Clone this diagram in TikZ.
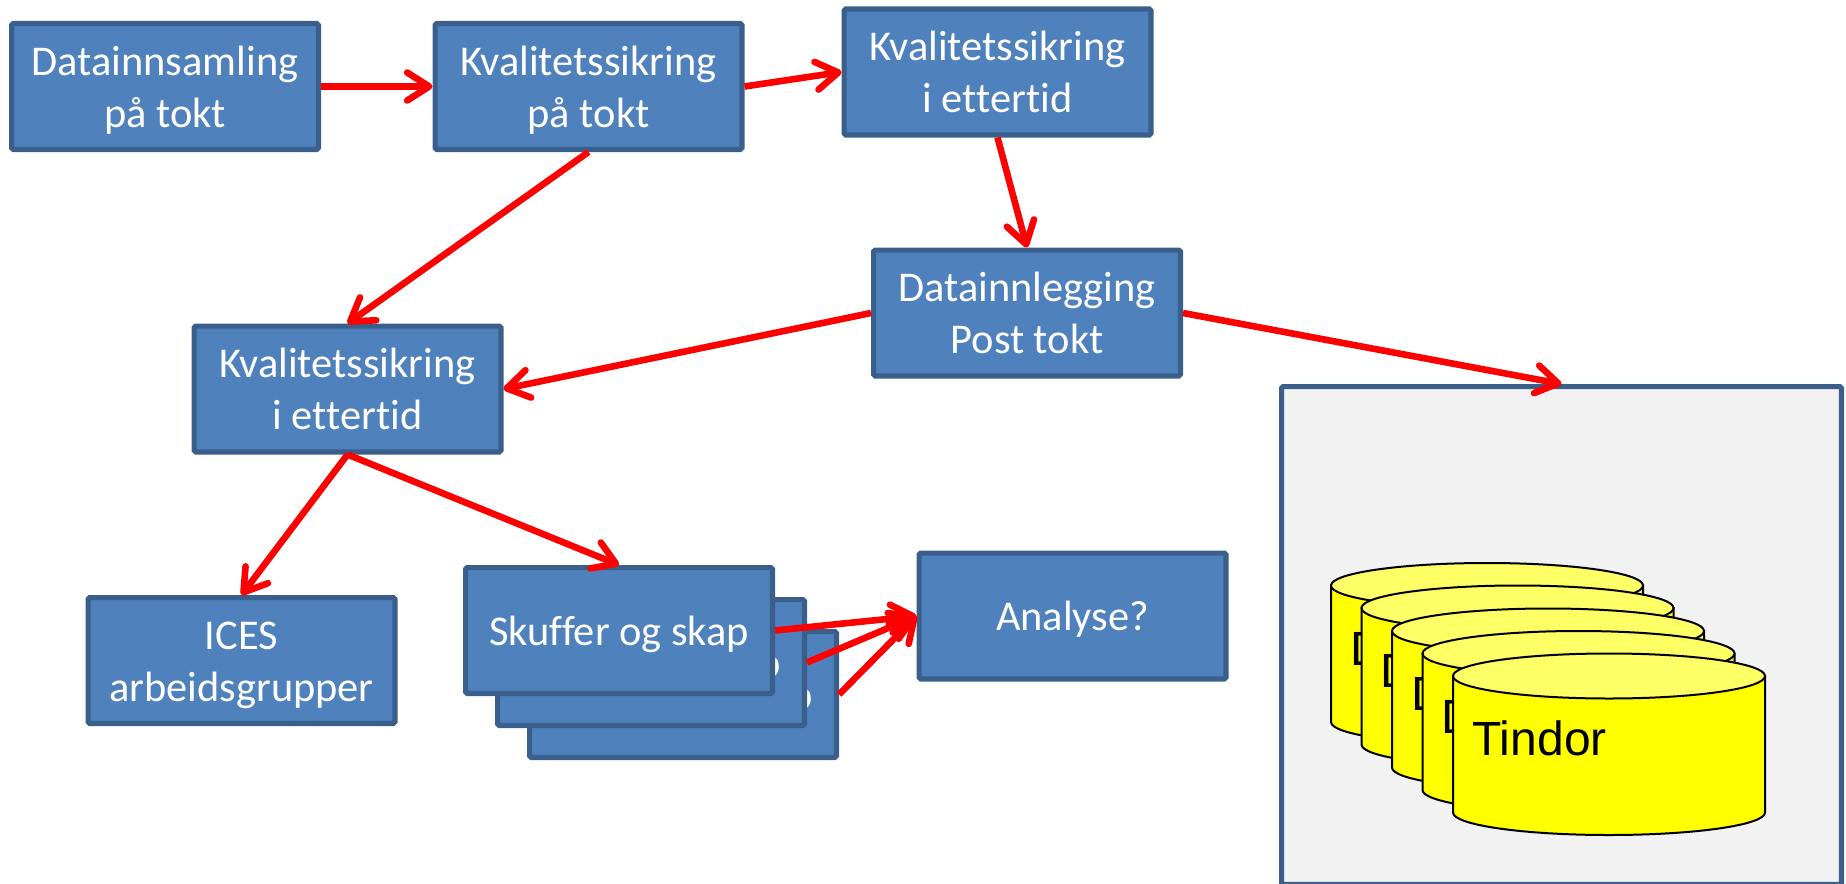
\documentclass[tikz,border=0pt]{standalone}
\usepackage{fontspec}
\setmainfont{Carlito}[Ligatures=NoCommon]
\newfontfamily\tankfont{Liberation Sans}
\usetikzlibrary{arrows.meta}

\definecolor{boxblue}{HTML}{4F81BD}
\definecolor{boxedge}{HTML}{3A5F8B}
\definecolor{panelgray}{HTML}{F2F2F2}
\definecolor{tankbody}{HTML}{FFFF00}
\definecolor{tanktop}{HTML}{FFFF66}
\definecolor{flowred}{HTML}{FF0000}

\lineskiplimit=-50pt
\newcommand{\boxstrut}{\rule[-4.1pt]{0pt}{23pt}}

\tikzset{
  stepbox/.style={draw=boxedge, fill=boxblue, line width=2.6pt, rounded corners=0.8pt,
    minimum width=153.4pt, minimum height=62.9pt, inner sep=0pt, align=center,
    text=white, font=\fontsize{21.2}{26}\selectfont},
  flow/.style={draw=flowred, line width=3.3pt, -{Straight Barb[length=11pt,width=14pt,round]}},
}

\begin{document}
\begin{tikzpicture}[x=0.5pt, y=-0.5pt]
    \useasboundingbox (0,0) rectangle (1846,883);

    \node[stepbox, fill=panelgray, minimum width=279.9pt, minimum height=248.9pt] (panel) at (1561.5,635.5) {};

    % tanks, back to front
    \foreach \x/\y/\lbl [count=\n] in {1487/585.5/D, 1517.5/608/D, 1548/631/D, 1578.5/653.5/D, 1609/676/Tindor} {
      \draw[line width=1pt, fill=tankbody] (\x-156,\y) -- (\x-156,\y+136.5) arc[start angle=180, end angle=0, x radius=156, y radius=22.5] -- (\x+156,\y) -- cycle;
      \draw[line width=1pt, fill=tanktop] (\x,\y) ellipse[x radius=156, y radius=22.5];
      \node[anchor=base west, inner sep=0pt, font=\tankfont\fontsize{24}{28}\selectfont] (tank\n) at (\x-137,\y+79.5) {\lbl};
    }

    \node[stepbox] (collect) at (165,86.5) {\boxstrut Datainnsamling\\på tokt\boxstrut};
    \node[stepbox] (check) at (588.5,86.5) {\boxstrut Kvalitetssikring\\på tokt\boxstrut};
    \node[stepbox] (later) at (997.5,72) {\boxstrut Kvalitetssikring\\i ettertid\boxstrut};
    \node[stepbox] (entry) at (1027,313) {\boxstrut Datainnlegging\\Post tokt\boxstrut};
    \node[stepbox] (review) at (347.5,389) {\boxstrut Kvalitetssikring\\i ettertid\boxstrut};
    \node[stepbox] (ices) at (241.5,660.5) {\boxstrut ICES\\arbeidsgrupper\boxstrut};

    \foreach \x/\y/\name in {683/694.5/drawerc, 651/662.5/drawerb, 619/630.5/drawera}
      \node[stepbox] (\name) at (\x,\y) {\boxstrut Skuffer og skap};

    \node[stepbox] (analysis) at (1072.5,616) {\boxstrut Analyse?};

    \draw[flow] (collect.east) -- (check.west);
    \draw[flow] (check.east) -- (later.west);
    \draw[flow] (check.south) -- (review.north);
    \draw[flow] (later.south) -- (entry.north);
    \draw[flow] (entry.west) -- (review.east);
    \draw[flow] (entry.east) -- (panel.north);
    \draw[flow] (review.south) -- (ices.north);
    \draw[flow] (review.south) -- (drawera.north);
    \foreach \name in {drawerc,drawerb,drawera}
      \draw[flow] (\name.east) -- (analysis.west);
\end{tikzpicture}
\end{document}
